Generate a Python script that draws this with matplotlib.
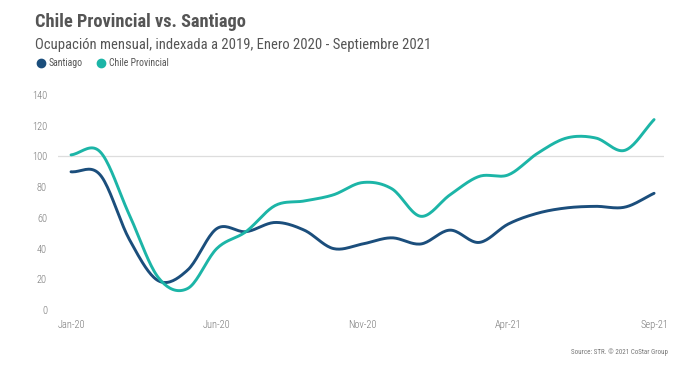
import matplotlib
matplotlib.use("Agg")
import matplotlib.pyplot as plt
from matplotlib.lines import Line2D
import numpy as np

plt.rcParams['font.family'] = ['Roboto Condensed', 'DejaVu Sans']

months = ["Jan-20", "Feb-20", "Mar-20", "Apr-20", "May-20", "Jun-20", "Jul-20",
          "Aug-20", "Sep-20", "Oct-20", "Nov-20", "Dec-20", "Jan-21", "Feb-21",
          "Mar-21", "Apr-21", "May-21", "Jun-21", "Jul-21", "Aug-21", "Sep-21"]
santiago = [90, 88, 46, 19, 26, 53, 51, 57, 52, 40, 43, 47, 43, 52, 44, 56, 63, 66.5, 67.5, 67, 76]
provincial = [101, 103, 62, 21, 14, 40, 51, 68, 71, 75, 83, 79, 61, 75, 87, 88, 102, 112, 112, 104, 124]
tick_labels = ["Jan-20", "Jun-20", "Nov-20", "Apr-21", "Sep-21"]
yticks = [0, 20, 40, 60, 80, 100, 120, 140]

DARK = "#1b4e7c"
TEAL = "#1cb5a7"


# smooth line through the monthly values (Catmull-Rom), only for drawing
def smooth(y, n=20):
    y = np.asarray(y, float)
    p = np.concatenate([[2 * y[0] - y[1]], y, [2 * y[-1] - y[-2]]])
    xs, ys = [], []
    for i in range(len(y) - 1):
        p0, p1, p2, p3 = p[i], p[i + 1], p[i + 2], p[i + 3]
        t = np.linspace(0, 1, n, endpoint=False)
        v = 0.5 * ((2 * p1) + (-p0 + p2) * t + (2 * p0 - 5 * p1 + 4 * p2 - p3) * t ** 2
                   + (-p0 + 3 * p1 - 3 * p2 + p3) * t ** 3)
        xs.append(i + t)
        ys.append(v)
    xs.append([len(y) - 1])
    ys.append([y[-1]])
    return np.concatenate(xs), np.concatenate(ys)


fig = plt.figure(figsize=(7, 3.66), dpi=100)
ax = fig.add_axes([58 / 700, 56 / 366, 606 / 700, 215 / 366])

sx, sy = smooth(santiago)
px, py = smooth(provincial)
ax.plot(sx, sy, color=DARK, lw=2.1, solid_capstyle='round')
ax.plot(px, py, color=TEAL, lw=2.1, solid_capstyle='round')

ax.axhline(100, color="#dddddd", lw=0.9, zorder=0)
ax.set_xlim(-0.446, 20.34)
ax.set_ylim(0, 140)
ax.set_yticks(yticks)
ax.set_xticks([months.index(m) for m in tick_labels])
ax.set_xticklabels(tick_labels)
ax.tick_params(length=0, labelsize=7.5, colors="#777777")
ax.tick_params(axis='y', pad=8)
ax.tick_params(axis='x', pad=7)
for lbl in ax.get_xticklabels() + ax.get_yticklabels():
    lbl.set_fontweight('light')
for s in ax.spines.values():
    s.set_visible(False)

fig.text(35 / 700, 1 - 22 / 366, "Chile Provincial vs. Santiago", fontsize=13.2,
         fontweight='bold', color="#555555", va='center')
fig.text(35 / 700, 1 - 45 / 366, "Ocupación mensual, indexada a 2019, Enero 2020 - Septiembre 2021",
         fontsize=10.5, color="#555555", va='center')

fig.add_artist(Line2D([41 / 700], [1 - 62.5 / 366], marker='o', ms=6, color=DARK,
                      transform=fig.transFigure))
fig.text(49 / 700, 1 - 62.5 / 366, "Santiago", fontsize=7, color="#555555", va='center')
fig.add_artist(Line2D([101 / 700], [1 - 62.5 / 366], marker='o', ms=6, color=TEAL,
                      transform=fig.transFigure))
fig.text(109 / 700, 1 - 62.5 / 366, "Chile Provincial", fontsize=7, color="#555555", va='center')

fig.text(668 / 700, 1 - 352 / 366, "Source: STR. © 2021 CoStar Group", fontsize=5,
         color="#777777", ha='right', va='center')

fig.savefig("out.png", dpi=100)
